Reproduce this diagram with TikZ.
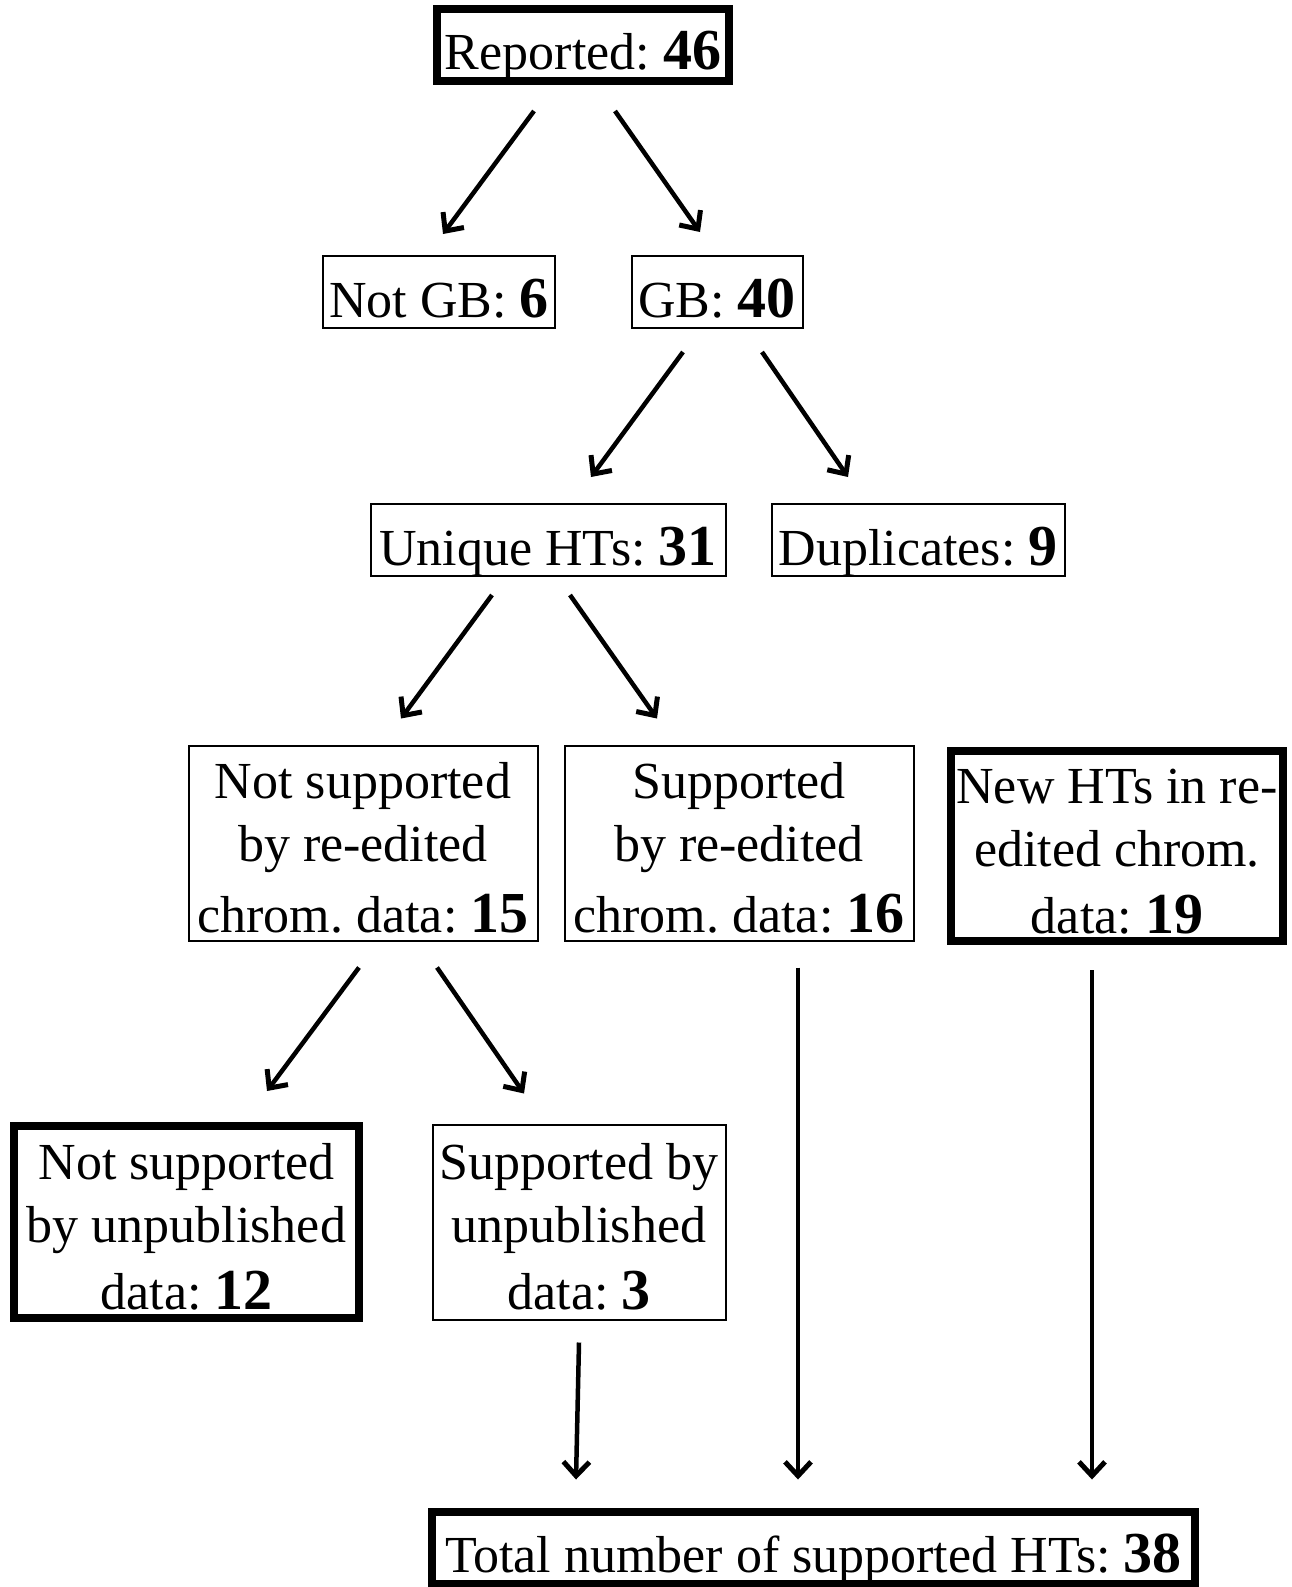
\documentclass[tikz,border=0pt]{standalone}
\usepackage{fontspec}
\setmainfont{Liberation Serif}
\usetikzlibrary{arrows.meta,calc}
\frenchspacing
\newcommand\nb[1]{{\fontsize{58}{58}\selectfont\bfseries #1}}
\newcommand\fs{\rule{0pt}{46pt}}
\begin{document}
\begin{tikzpicture}[x=1pt,y=-1pt,
  box/.style={draw=black,rectangle,inner sep=0pt,font=\fontsize{52}{63}\selectfont\frenchspacing,align=center},
  thin/.style={line width=2pt},
  thick/.style={line width=8pt},
  one/.style={text height=61pt,text depth=11pt},
  arr/.style={line width=4.5pt,-{Straight Barb[length=14pt,width=26pt,line width=5pt]}}]
\useasboundingbox (0,0) rectangle (1291,1587);
\node[box,thick,one,minimum width=292pt,minimum height=72pt] (rep) at (583,45) {Reported: \nb{46}};
\node[box,thin,one,minimum width=232pt,minimum height=72pt] (notgb) at (439,292) {Not GB: \nb{6}};
\node[box,thin,one,minimum width=171pt,minimum height=72pt] (gb) at (717,292) {GB: \nb{40}};
\node[box,thin,one,minimum width=355pt,minimum height=72pt] (uniq) at (548,540) {Unique HTs: \nb{31}};
\node[box,thin,one,minimum width=293pt,minimum height=72pt] (dup) at (918,540) {Duplicates: \nb{9}};
\node[box,thin,minimum width=349pt,minimum height=195pt] (ns) at (363,843) {\fs Not supported\\by re-edited\\[8pt]chrom. data: \nb{15}};
\node[box,thin,minimum width=349pt,minimum height=195pt] (sup) at (739,843) {\fs Supported\\by re-edited\\[8pt]chrom. data: \nb{16}};
\node[box,thick,minimum width=332pt,minimum height=190pt] (new) at (1117,846) {\fs New HTs in re-\\edited chrom.\\[4pt]data: \nb{19}};
\node[box,thick,minimum width=345pt,minimum height=192pt] (nsu) at (186.5,1222) {\fs Not supported\\by unpublished\\[4pt]data: \nb{12}};
\node[box,thin,minimum width=293pt,minimum height=195pt] (su) at (579,1222) {\fs Supported by\\unpublished\\[4pt]data: \nb{3}};
\node[box,thick,one,minimum width=763pt,minimum height=71pt] (tot) at (813.5,1547.5) {Total number of supported HTs: \nb{38}};
\draw[arr] ($(rep.south)+(-49,26)$) -- ($(notgb.north)+(4,-21)$);
\draw[arr] ($(rep.south)+(32,26)$) -- ($(gb.north)+(-17,-23)$);
\draw[arr] ($(gb.south)+(-34,23)$) -- ($(uniq.north)+(43,-26)$);
\draw[arr] ($(gb.south)+(45,23)$) -- ($(dup.north)+(-70,-26)$);
\draw[arr] ($(uniq.south)+(-56,18)$) -- ($(ns.north)+(38,-26)$);
\draw[arr] ($(uniq.south)+(22,18)$) -- ($(sup.north)+(-82,-26)$);
\draw[arr] ($(ns.south)+(-4,26)$) -- ($(nsu.north)+(80.5,-31)$);
\draw[arr] ($(ns.south)+(74,26)$) -- ($(su.north)+(-55,-30)$);
\draw[arr] ($(su.south)+(0,22)$) -- ($(tot.north)+(-237.5,-28)$);
\draw[arr] ($(sup.south)+(59,26)$) -- ($(tot.north)+(-15.5,-28)$);
\draw[arr] ($(new.south)+(-25,25)$) -- ($(tot.north)+(278.5,-28)$);
\end{tikzpicture}
\end{document}
